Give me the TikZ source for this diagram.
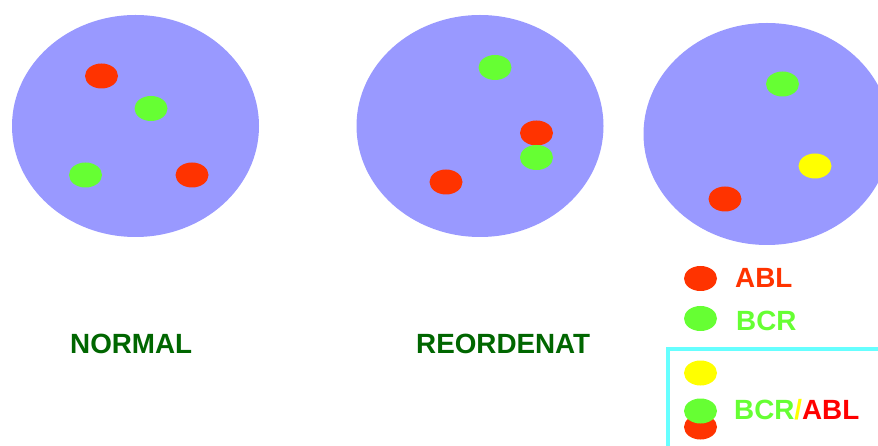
\documentclass[tikz,border=0pt]{standalone}
\usepackage{fontspec}
\setmainfont{Liberation Sans}
\usetikzlibrary{shapes.geometric}
\definecolor{cellblue}{RGB}{153,153,255}
\definecolor{ablred}{RGB}{255,51,0}
\definecolor{bcrgreen}{RGB}{102,255,51}
\definecolor{fusionyellow}{RGB}{255,255,0}
\definecolor{titlegreen}{RGB}{0,102,0}
\definecolor{framecyan}{RGB}{102,255,255}
\tikzset{
  x=1pt,y=-1pt,
  cell/.style={ellipse,draw=none,fill=cellblue,inner sep=0pt,minimum width=247pt,minimum height=222pt},
  spot/.style={ellipse,draw=none,inner sep=0pt,minimum width=33pt,minimum height=25pt},
  abl/.style={spot,fill=ablred},
  bcr/.style={spot,fill=bcrgreen},
  fusion/.style={spot,fill=fusionyellow},
  caption/.style={inner sep=0pt,font=\fontsize{27.8}{28}\selectfont\bfseries,anchor=base west},
}
\begin{document}
\begin{tikzpicture}
\useasboundingbox (0,0) rectangle (878,446);
\clip (0,0) rectangle (878,446);
\fill[white] (0,0) rectangle (878,446);

% Cell with the normal arrangement
\node[cell] (cellA) at (135.5,126) {};
\node[abl] (a1) at (101.5,76) {};
\node[bcr] (a2) at (151,108.5) {};
\node[bcr] (a3) at (85.5,175) {};
\node[abl] (a4) at (192,175) {};
\node[caption,text=titlegreen] (normal) at (70,353) {NORMAL};

% Cell with the rearranged chromosomes
\node[cell] (cellB) at (480,126) {};
\node[bcr] (b1) at (495,67.5) {};
\node[abl] (b2) at (536.5,133) {};
\node[bcr] (b3) at (536.5,157.5) {};
\node[abl] (b4) at (446,182) {};
\node[caption,text=titlegreen] (reord) at (416,353) {REORDENAT};

% Third cell, cut by the right edge
\node[cell] (cellC) at (767,134) {};
\node[bcr] (c1) at (782.5,84) {};
\node[fusion] (c2) at (815,166) {};
\node[abl] (c3) at (725,199) {};

% Key
\node[abl] (k1) at (700.5,278.5) {};
\node[caption,text=ablred] (k1t) at (735,288) {ABL};
\node[bcr] (k2) at (700.5,318.5) {};
\node[caption,text=bcrgreen] (k2t) at (736,330.5) {BCR};

% Framed part of the key, open past the picture edges
\draw[framecyan,line width=4.4pt] (667.8,460) -- (667.8,348.8) -- (890,348.8);
\node[fusion] (k3) at (700.5,373) {};
\node[abl] (k4) at (700.5,427) {};
\node[bcr] (k5) at (700.5,411) {};
\node[caption] (k5t) at (734,419) {\textcolor{bcrgreen}{BCR}\textcolor{fusionyellow}{/}\textcolor{red}{ABL}};
\end{tikzpicture}
\end{document}
